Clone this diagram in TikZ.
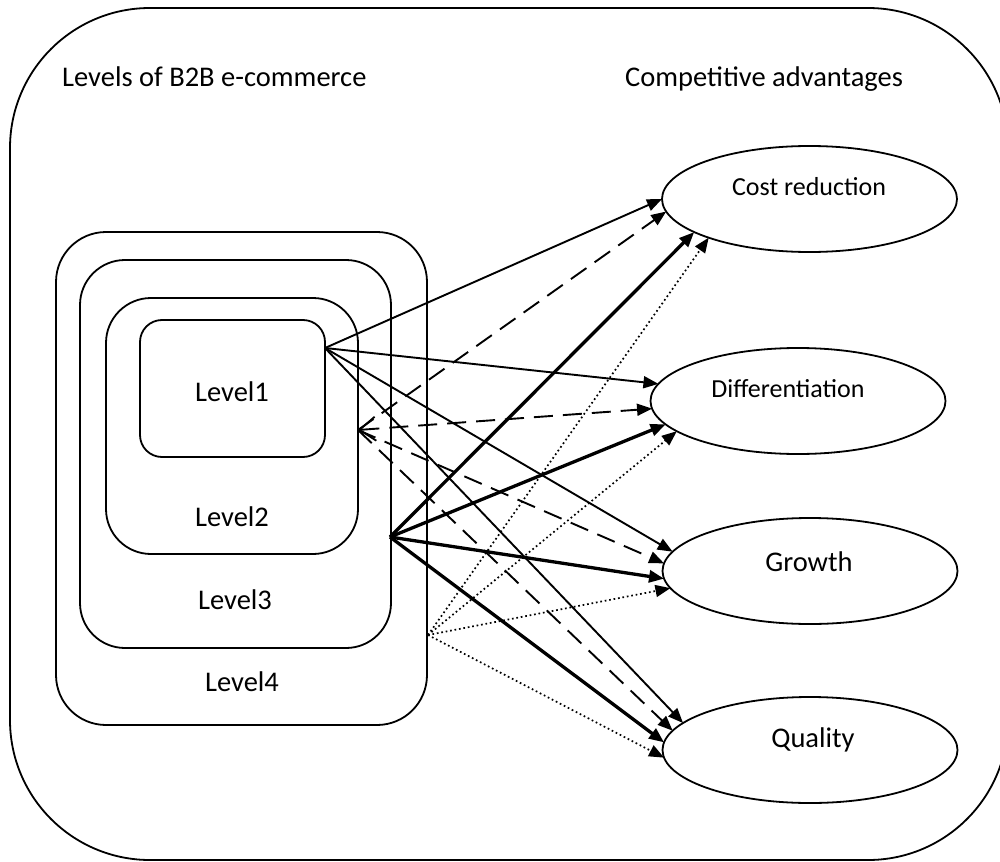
\documentclass[tikz,border=0pt]{standalone}
\usepackage{fontspec}
\setmainfont{Carlito}
\usetikzlibrary{shapes.geometric,arrows.meta}
\begin{document}
\begin{tikzpicture}[x=1pt,y=-1pt,
  box/.style={draw,line width=1.8pt,rounded corners=#1},
  ell/.style={draw,ellipse,line width=1.8pt,minimum width=295pt,minimum height=106pt,inner sep=0pt,outer sep=0pt},
  big/.style={font=\fontsize{28.5}{34}\selectfont,inner sep=0pt},
  mid/.style={font=\fontsize{26}{31}\selectfont,inner sep=0pt},
  tip/.style={-{Triangle[length=15pt,width=12pt]}},
  thinarr/.style={tip,line width=1.9pt},
  thickarr/.style={tip,line width=3.3pt},
  dsharr/.style={tip,line width=1.9pt,dash pattern=on 19pt off 10pt},
  dotarr/.style={tip,line width=1.7pt,dash pattern=on 1.7pt off 2.8pt},
]
\useasboundingbox (0,0) rectangle (1000,861);
% outer frame
\draw[box=140] (10,8) rectangle (1008,860);
% titles
\node[big,anchor=base west] (t1) at (62,87) {Levels of B2B e-commerce};
\node[big,anchor=base west] (t2) at (625,87) {Competitive advantages};
% level boxes
\draw[box=50] (56,232) rectangle (427,725);
\draw[box=45] (80,260) rectangle (391,648);
\draw[box=45] (106,298) rectangle (358,554);
\draw[box=22] (140,320) rectangle (325,457);
\node[big] (l1) at (232,392) {Level1};
\node[big] (l2) at (232,517) {Level2};
\node[big] (l3) at (235,600) {Level3};
\node[big] (l4) at (242,682) {Level4};
% ellipses
\node[ell] (cost) at (809.5,199) {};
\node[ell] (diff) at (798,401) {};
\node[ell] (grow) at (810,571) {};
\node[ell] (qual) at (810,750) {};
\node[mid] (costt) at (809,187) {Cost reduction};
\node[mid] (difft) at (788,389) {Differentiation};
\node[big] (growt) at (809,562) {Growth};
\node[big] (qualt) at (813,740) {Quality};
% sources
\coordinate (s1) at (325,348);
\coordinate (s2) at (390,537);
\coordinate (s3) at (428,635);
\coordinate (d) at (358,430);
% thin solid
\draw[thinarr] (s1) -- (cost.180.4);
\draw[thinarr] (s1) -- (diff.173.7);
\draw[thinarr] (s1) -- (grow.172);
\draw[thinarr] (s1) -- (qual.168.4);
% dashed
\draw[dsharr] (d) -- (cost.185.6);
\draw[dsharr,{Straight Barb[length=16pt,width=24pt,line width=1.8pt]}-{Triangle[length=15pt,width=12pt]}] (d) -- (diff.183.5);
\draw[dsharr] (d) -- (grow.177.7);
\draw[dsharr] (d) -- (qual.172);
% thick
\draw[thickarr] (s2) -- (cost.196.1);
\draw[thickarr] (s2) -- (diff.190.5);
\draw[thickarr] (s2) -- (grow.183.5);
\draw[thickarr] (s2) -- (qual.177.2);
% dotted
\draw[dotarr] (s3) -- (cost.201);
\draw[dotarr] (s3) -- (diff.194.3);
\draw[dotarr] (s3) -- (grow.187.9);
\draw[dotarr] (s3) -- (qual.183.9);
\end{tikzpicture}
\end{document}
